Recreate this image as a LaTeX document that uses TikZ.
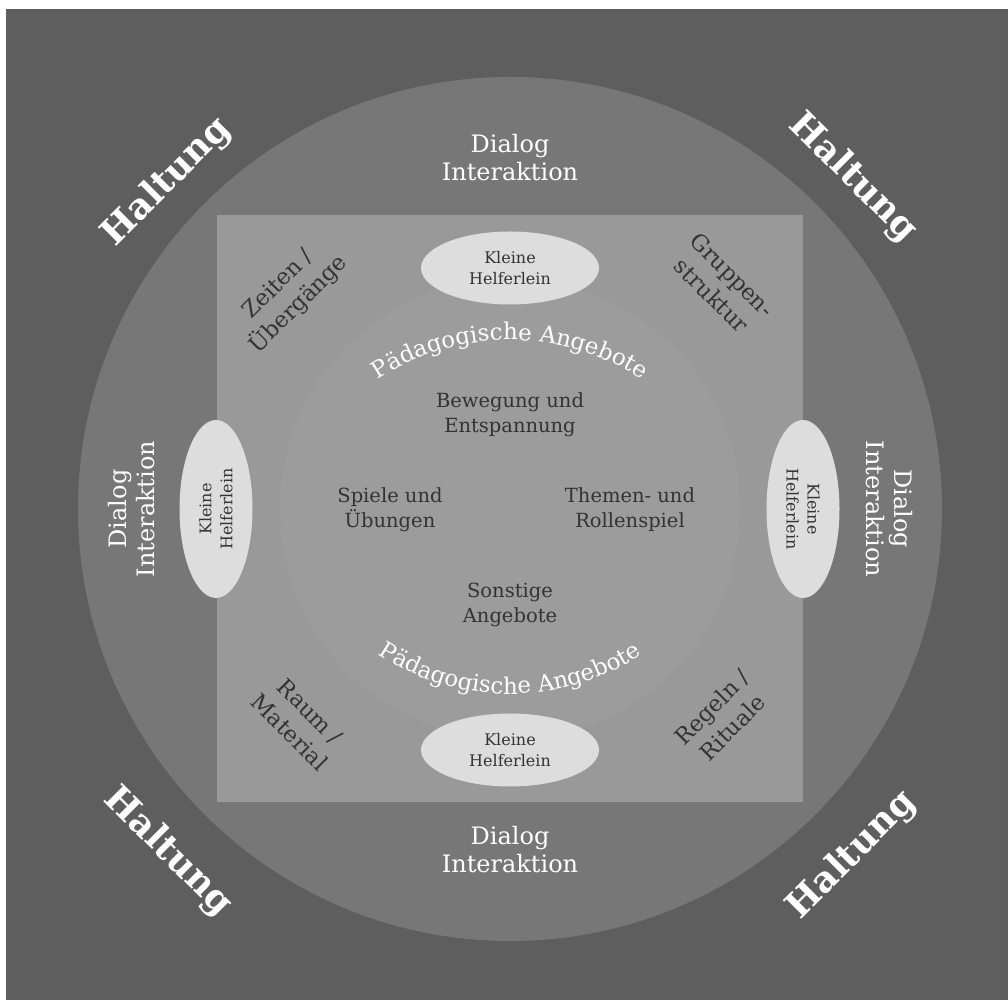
\documentclass[tikz,border=0pt]{standalone}
\usepackage{fontspec}
\setmainfont{DejaVu Serif}
\usetikzlibrary{shapes.geometric, decorations.text}
\definecolor{bgdark}{HTML}{5E5E5E}
\definecolor{ringgray}{HTML}{777777}
\definecolor{squaregray}{HTML}{999999}
\definecolor{innergray}{HTML}{9C9C9C}
\definecolor{ovalgray}{HTML}{DDDDDD}
\definecolor{textdark}{HTML}{333333}
\newcommand{\curvefont}{\fontsize{23}{23}\selectfont}

\begin{document}
\begin{tikzpicture}[x=1pt, y=1pt, align=center,
  haltung/.style={text=white, font=\fontsize{36}{40}\selectfont\bfseries},
  dialog/.style={text=white, font=\fontsize{24}{28}\selectfont},
  corner/.style={text=textdark, font=\fontsize{22.5}{29}\selectfont},
  angebot/.style={text=textdark, font=\fontsize{19.5}{25}\selectfont},
  helfer/.style={ellipse, fill=ovalgray, text=textdark, inner sep=0pt, minimum width=178, minimum height=73, font=\fontsize{16}{21}\selectfont},
  curved/.style={decorate, decoration={text along path, text align=center, text color=white, text={|\curvefont|#1}}}]
\useasboundingbox (0,0) rectangle (1008,1000);
\fill[white] (0,0) rectangle (1008,1000);
\fill[bgdark] (6,0) rectangle (1008,991);
\fill[ringgray] (510,491) circle[radius=432];
\fill[squaregray] (217,198) rectangle (803,785);
\fill[innergray] (510,491) circle[radius=230];
\coordinate (ctop) at (510,420);
\coordinate (cbot) at (510,546);

\node[haltung, rotate=45] (haltNW) at (167,818) {Haltung};
\node[haltung, rotate=-45] (haltNE) at (853,822) {Haltung};
\node[haltung, rotate=-45] (haltSW) at (168,148) {Haltung};
\node[haltung, rotate=45] (haltSE) at (852,145) {Haltung};

\node[dialog] (dialogN) at (510,842) {Dialog\\Interaktion};
\node[dialog] (dialogS) at (510,150) {Dialog\\Interaktion};
\node[dialog, rotate=90] (dialogW) at (132,491) {Dialog\\Interaktion};
\node[dialog, rotate=-90] (dialogE) at (889,491) {Dialog\\Interaktion};

\node[helfer] (helferN) at (510,732) {Kleine\\Helferlein};
\node[helfer] (helferS) at (510,250) {Kleine\\Helferlein};
\node[helfer, rotate=90] (helferW) at (216,491) {Kleine\\Helferlein};
\node[helfer, rotate=-90] (helferE) at (803,491) {Kleine\\Helferlein};

\node[corner, rotate=45] (zeiten) at (289,705) {Zeiten /\\Übergänge};
\node[corner, rotate=-45] (gruppen) at (722,715) {Gruppen-\\struktur};
\node[corner, rotate=-45] (raum) at (300,278) {Raum /\\Material};
\node[corner, rotate=45] (regeln) at (722,283) {Regeln /\\Rituale};

\node[angebot] (bewegung) at (510,585) {Bewegung und\\Entspannung};
\node[angebot] (spiele) at (390,490) {Spiele und\\Übungen};
\node[angebot] (themen) at (630,490) {Themen- und\\Rollenspiel};
\node[angebot] (sonstige) at (510,395) {Sonstige\\Angebote};

\path[curved={Pädagogische Angebote}] ([shift={(140:240)}]ctop) arc[start angle=140, end angle=40, radius=240];
\path[curved={Pädagogische Angebote}] ([shift={(220:240)}]cbot) arc[start angle=220, end angle=320, radius=240];
\end{tikzpicture}
\end{document}
